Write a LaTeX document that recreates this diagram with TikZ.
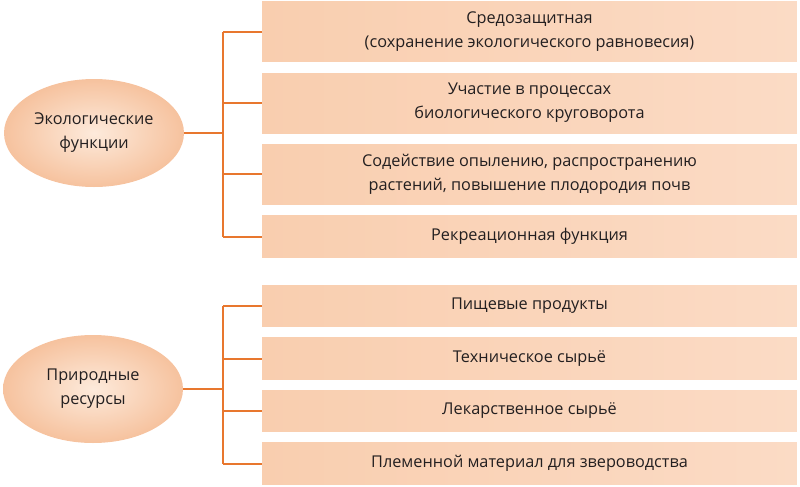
\documentclass[tikz,border=0pt]{standalone}
\usepackage{fontspec}
\setmainfont{Open Sans}
\usepackage{tikz}
\usetikzlibrary{shapes.geometric}

\definecolor{linkorange}{HTML}{E8772E}
\definecolor{boxdark}{HTML}{F9CEAF}
\definecolor{boxlight}{HTML}{FDECDF}
\definecolor{boxright}{HTML}{FBDBC5}
\definecolor{ovalout}{HTML}{F6C29E}
\definecolor{ovalin}{HTML}{FDEADB}
\definecolor{textgrey}{HTML}{231F20}

\begin{document}
\begin{tikzpicture}[x=0.75pt,y=-0.75pt]
\tikzstyle{every node}+=[font=\fontsize{12.2}{18}\selectfont, text=textgrey, align=center]
\tikzstyle{item}=[rectangle, inner sep=0pt, minimum width=401pt, left color=boxdark, middle color=boxlight, right color=boxright]
\tikzstyle{oval}=[ellipse, inner sep=0pt, minimum width=135pt, minimum height=81pt, inner color=ovalin, outer color=ovalout]
\tikzstyle{link}=[linkorange, line width=1.5pt]
\useasboundingbox (0,0) rectangle (800,486);
% ecological group
\node [oval] (eco) at (94,133) {Экологические\\функции};
\node [item, minimum height=44.5pt] (e1) at (529.5,31.5) {Средозащитная\\(сохранение экологического равновесия)};
\node [item, minimum height=45pt] (e2) at (529.5,103) {Участие в процессах\\биологического круговорота};
\node [item, minimum height=45pt] (e3) at (529.5,174) {Содействие опылению, распространению\\растений, повышение плодородия почв};
\node [item, minimum height=31pt] (e4) at (529.5,236.5) {Рекреационная функция};
% resources group
\node [oval] (res) at (93,389) {Природные\\ресурсы};
\node [item, minimum height=31pt] (r1) at (529.5,306) {Пищевые продукты};
\node [item, minimum height=31pt] (r2) at (529.5,358.5) {Техническое сырьё};
\node [item, minimum height=31pt] (r3) at (529.5,411) {Лекарственное сырьё};
\node [item, minimum height=31pt] (r4) at (529.5,463.5) {Племенной материал для звероводства};
% connectors
\coordinate (trunk) at (223,0);
\draw [link] (eco.east) -- (eco.east -| trunk);
\draw [link] (e1.west -| trunk) -- (e4.west -| trunk);
\foreach \b in {e1,e2,e3,e4}
  \draw [link] (\b.west -| trunk) -- (\b.west);
\draw [link] (res.east) -- (res.east -| trunk);
\draw [link] (r1.west -| trunk) -- (r4.west -| trunk);
\foreach \b in {r1,r2,r3,r4}
  \draw [link] (\b.west -| trunk) -- (\b.west);
\end{tikzpicture}
\end{document}
